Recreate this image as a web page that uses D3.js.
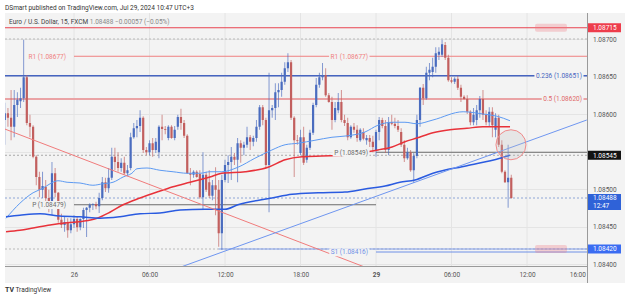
<!DOCTYPE html>
<html>
<head>
<meta charset="utf-8">
<script src="https://cdn.jsdelivr.net/npm/d3@7"></script>
<style>
html, body { margin: 0; padding: 0; background: #fff; }
svg { display: block; font-family: Roboto, "Liberation Sans", sans-serif; }
</style>
</head>
<body>
<svg id="chart" width="625" height="298"></svg>
<script>
// EUR/USD 15 min candles. Bar index 0 = Jul 26 00:00, 96 = Jul 29 00:00 (weekend collapsed)
var firstIndex = -22;
// [open, high, low, close]
var ohlc = [
  [1.08592,1.08615,1.08559,1.08601],[1.08601,1.08608,1.08583,1.08595],[1.08595,1.08632,1.08565,1.08583],
  [1.08583,1.08632,1.08569,1.08612],[1.08612,1.08629,1.08596,1.08619],[1.08617,1.08635,1.08608,1.08621],
  [1.08621,1.08699,1.08616,1.08649],[1.08649,1.08652,1.08585,1.08588],[1.08588,1.08599,1.08569,1.08583],
  [1.08583,1.08585,1.08541,1.08543],[1.08543,1.08545,1.08505,1.08516],[1.08516,1.08523,1.08489,1.08499],
  [1.08499,1.08523,1.08488,1.08504],[1.08503,1.08512,1.08479,1.08488],[1.08488,1.08499,1.08469,1.08475],
  [1.08475,1.08536,1.08465,1.08521],[1.08521,1.08528,1.08489,1.08495],[1.08495,1.08496,1.08455,1.08459],
  [1.08459,1.08467,1.08448,1.08452],[1.08452,1.08463,1.08443,1.08456],[1.08456,1.08461,1.08435,1.08445],
  [1.08445,1.08461,1.08441,1.08453],
  [1.08453,1.08465,1.08448,1.08460],[1.08460,1.08464,1.08443,1.08449],[1.08449,1.08461,1.08445,1.08460],
  [1.08460,1.08475,1.08448,1.08472],[1.08472,1.08476,1.08436,1.08475],[1.08475,1.08481,1.08469,1.08479],
  [1.08479,1.08481,1.08472,1.08480],[1.08480,1.08483,1.08473,1.08477],[1.08477,1.08495,1.08468,1.08488],
  [1.08488,1.08516,1.08485,1.08509],[1.08509,1.08515,1.08496,1.08501],[1.08501,1.08528,1.08495,1.08515],
  [1.08515,1.08555,1.08512,1.08543],[1.08543,1.08555,1.08525,1.08536],[1.08536,1.08549,1.08523,1.08528],
  [1.08528,1.08541,1.08523,1.08535],[1.08535,1.08543,1.08519,1.08521],[1.08521,1.08532,1.08517,1.08525],
  [1.08528,1.08575,1.08525,1.08569],[1.08569,1.08588,1.08567,1.08581],[1.08581,1.08592,1.08569,1.08584],
  [1.08584,1.08605,1.08576,1.08595],[1.08595,1.08597,1.08548,1.08552],[1.08552,1.08556,1.08545,1.08549],
  [1.08549,1.08565,1.08545,1.08561],[1.08561,1.08568,1.08543,1.08552],[1.08552,1.08568,1.08548,1.08563],
  [1.08549,1.08585,1.08541,1.08583],[1.08583,1.08599,1.08565,1.08580],[1.08580,1.08584,1.08573,1.08579],
  [1.08568,1.08585,1.08565,1.08583],[1.08583,1.08585,1.08567,1.08568],[1.08568,1.08584,1.08565,1.08579],
  [1.08583,1.08599,1.08579,1.08596],[1.08596,1.08607,1.08579,1.08588],[1.08588,1.08592,1.08568,1.08571],
  [1.08571,1.08573,1.08520,1.08521],[1.08521,1.08528,1.08505,1.08519],[1.08519,1.08525,1.08515,1.08523],
  [1.08523,1.08525,1.08515,1.08516],[1.08520,1.08525,1.08487,1.08489],[1.08489,1.08549,1.08472,1.08519],
  [1.08519,1.08523,1.08496,1.08499],[1.08509,1.08525,1.08488,1.08491],[1.08491,1.08512,1.08485,1.08505],
  [1.08505,1.08529,1.08465,1.08499],[1.08499,1.08512,1.08423,1.08441],[1.08441,1.08519,1.08419,1.08512],
  [1.08512,1.08539,1.08509,1.08532],[1.08532,1.08545,1.08508,1.08536],[1.08536,1.08556,1.08512,1.08543],
  [1.08543,1.08548,1.08532,1.08539],[1.08539,1.08568,1.08509,1.08561],[1.08561,1.08565,1.08535,1.08555],
  [1.08555,1.08563,1.08545,1.08559],[1.08559,1.08583,1.08555,1.08569],[1.08569,1.08572,1.08552,1.08563],
  [1.08563,1.08571,1.08557,1.08568],[1.08568,1.08592,1.08563,1.08583],[1.08583,1.08612,1.08579,1.08609],
  [1.08609,1.08612,1.08585,1.08592],[1.08592,1.08595,1.08528,1.08532],[1.08532,1.08655,1.08469,1.08605],
  [1.08605,1.08612,1.08595,1.08608],[1.08608,1.08641,1.08592,1.08629],[1.08629,1.08641,1.08609,1.08632],
  [1.08632,1.08655,1.08623,1.08643],[1.08643,1.08669,1.08639,1.08661],[1.08661,1.08681,1.08656,1.08669],
  [1.08669,1.08672,1.08592,1.08595],[1.08595,1.08597,1.08516,1.08565],[1.08565,1.08572,1.08559,1.08564],
  [1.08548,1.08579,1.08545,1.08569],[1.08569,1.08583,1.08532,1.08535],[1.08539,1.08559,1.08535,1.08555],
  [1.08555,1.08579,1.08552,1.08575],[1.08575,1.08615,1.08572,1.08612],[1.08612,1.08648,1.08609,1.08639],
  [1.08639,1.08655,1.08635,1.08649],[1.08649,1.08668,1.08645,1.08652],[1.08652,1.08661,1.08623,1.08625],
  [1.08625,1.08628,1.08615,1.08616],[1.08616,1.08623,1.08579,1.08592],[1.08592,1.08616,1.08589,1.08608],
  [1.08605,1.08628,1.08601,1.08616],[1.08616,1.08632,1.08589,1.08592],[1.08592,1.08599,1.08584,1.08588],
  [1.08588,1.08595,1.08565,1.08569],[1.08569,1.08585,1.08567,1.08583],[1.08583,1.08588,1.08575,1.08579],
  [1.08579,1.08585,1.08563,1.08568],[1.08565,1.08581,1.08563,1.08579],[1.08576,1.08581,1.08565,1.08567],
  [1.08565,1.08572,1.08559,1.08568],[1.08568,1.08572,1.08556,1.08563],[1.08563,1.08571,1.08549,1.08556],
  [1.08552,1.08579,1.08543,1.08576],[1.08576,1.08596,1.08565,1.08592],[1.08592,1.08595,1.08581,1.08584],
  [1.08584,1.08592,1.08548,1.08552],[1.08552,1.08596,1.08545,1.08589],[1.08589,1.08599,1.08585,1.08587],
  [1.08587,1.08595,1.08581,1.08584],[1.08584,1.08592,1.08576,1.08579],[1.08576,1.08581,1.08556,1.08559],
  [1.08559,1.08565,1.08536,1.08541],[1.08541,1.08555,1.08539,1.08549],[1.08549,1.08552,1.08523,1.08525],
  [1.08525,1.08548,1.08508,1.08544],[1.08544,1.08599,1.08541,1.08592],[1.08592,1.08636,1.08583,1.08635],
  [1.08635,1.08640,1.08612,1.08621],[1.08621,1.08663,1.08619,1.08655],[1.08655,1.08668,1.08645,1.08659],
  [1.08656,1.08675,1.08649,1.08663],[1.08663,1.08689,1.08655,1.08681],[1.08679,1.08689,1.08672,1.08683],
  [1.08679,1.08699,1.08676,1.08693],[1.08692,1.08696,1.08672,1.08675],[1.08675,1.08679,1.08643,1.08645],
  [1.08645,1.08649,1.08641,1.08643],[1.08643,1.08649,1.08640,1.08647],[1.08647,1.08651,1.08632,1.08635],
  [1.08635,1.08639,1.08616,1.08623],[1.08623,1.08625,1.08619,1.08620],[1.08620,1.08625,1.08600,1.08603],
  [1.08603,1.08605,1.08585,1.08589],[1.08589,1.08608,1.08585,1.08599],[1.08592,1.08612,1.08585,1.08605],
  [1.08605,1.08624,1.08595,1.08620],[1.08620,1.08632,1.08592,1.08599],[1.08599,1.08605,1.08585,1.08589],
  [1.08589,1.08609,1.08583,1.08603],[1.08603,1.08609,1.08569,1.08585],[1.08579,1.08601,1.08569,1.08595],
  [1.08595,1.08599,1.08556,1.08559],[1.08559,1.08565,1.08521,1.08523],[1.08523,1.08525,1.08508,1.08509],
  [1.08509,1.08559,1.08475,1.08515],[1.08515,1.08519,1.08487,1.08488]
];

// moving averages, [bar index, price]
var maFast = [[-21.6,1.08461],[-17.2,1.08481],[-13,1.08495],[-9.9,1.08501],[-7.6,1.08507],[-5.1,1.08511],
  [-2.2,1.08509],[1.9,1.08508],[6,1.08505],[9.2,1.08507],[12.4,1.08509],[15.6,1.08516],[18.4,1.08521],
  [20,1.08527],[23.2,1.08528],[27.3,1.08525],[31.5,1.08523],[35.9,1.08521],[40.1,1.08521],[43.2,1.08523],
  [47,1.08523],[52.1,1.08529],[57.5,1.08541],[62.9,1.08552],[67.1,1.08559],[71.2,1.08561],[76.6,1.08565],
  [82,1.08569],[87.1,1.08571],[92.5,1.08576],[96.6,1.08585],[101.1,1.08589],[105.2,1.08589],[109,1.08587],
  [114.1,1.08592],[123.7,1.08603],[130,1.08600],[134.5,1.08597],[138.6,1.08591]];
var maMid = [[-21.6,1.08443],[-17.2,1.08445],[-13,1.08448],[-7.6,1.08452],[-2.2,1.08455],[2.9,1.08457],
  [7.3,1.08461],[11.4,1.08469],[15.6,1.08479],[21,1.08488],[26.4,1.08496],[31.5,1.08503],[36.9,1.08509],
  [43.2,1.08516],[47,1.08521],[54.4,1.08523],[61.7,1.08529],[67.1,1.08539],[72.5,1.08543],[78.8,1.08544],
  [86.1,1.08545],[92.5,1.08549],[96.6,1.08552],[101.1,1.08556],[105.2,1.08563],[109,1.08568],
  [114.1,1.08575],[119.5,1.08579],[124.9,1.08581],[130,1.08583],[138.6,1.08583]];
var maSlow = [[-21.6,1.08463],[-17.2,1.08465],[-10.8,1.08467],[-4.5,1.08464],[1.9,1.08463],[8.3,1.08461],
  [14.6,1.08463],[21,1.08467],[27.3,1.08468],[33.7,1.08472],[41.6,1.08473],[48,1.08473],[52.1,1.08479],
  [62.9,1.08488],[69.3,1.08493],[77.6,1.08495],[86.1,1.08496],[92.5,1.08500],[98.9,1.08504],
  [103.6,1.08509],[108.4,1.08512],[114.1,1.08521],[124.9,1.08531],[135.4,1.08541],[138.6,1.08545]];

// drawn trend lines, [bar index, price]
var trendDown = [[-22,1.08580],[93,1.08395]];
var trendUp = [[34,1.08396],[163,1.08592]];

// pivot points: [label, price, from bar, to bar]
var pivots = [["R1",1.08677,0,96],["P",1.08479,0,96],["R1",1.08677,96,163.5],["P",1.08549,96,163.5],["S1",1.08416,96,163.5]];
var fibLevels = [["0.236",1.08651],["0.5",1.08620]];

var priceTicks = [1.084, 1.0845, 1.085, 1.0855, 1.086, 1.0865, 1.087];
var timeTicks = [0, 24, 48, 72, 96, 120, 144, 160];
var timeLabels = ["26", "06:00", "12:00", "18:00", "29", "06:00", "12:00", "16:00"];

var lastPrice = 1.08488, dayLine = 1.08545, alertHigh = 1.08715, alertLow = 1.08420, roundLevel = 1.087;
var circleAt = [138.9, 1.08559];

// ---------------------------------------------------------------
var svg = d3.select("#chart");
var L = 5, R = 587, T = 13, B = 266;
var x = d3.scaleLinear().domain([0, 96]).range([74, 376]);
var y = d3.scaleLinear().domain([1.084, 1.087]).range([264, 39]);
var fmt = d3.format(".5f");

var blue = "#4a6cbf", red = "#c25f5e";

svg.append("rect").attr("x", L).attr("y", T).attr("width", 625 - L).attr("height", 283 - T).attr("fill", "#f3f3f3");

svg.append("defs").append("clipPath").attr("id", "clip")
  .append("rect").attr("x", L).attr("y", T).attr("width", R - L).attr("height", B - T);

var g = svg.append("g").attr("clip-path", "url(#clip)");

// grid
g.selectAll(".vg").data(timeTicks.slice(0, 7)).enter().append("line")
  .attr("x1", function (d) { return x(d); }).attr("x2", function (d) { return x(d); })
  .attr("y1", T).attr("y2", B).attr("stroke", "#e4e4e4").attr("stroke-width", 1);
g.selectAll(".hg").data(priceTicks).enter().append("line")
  .attr("x1", L).attr("x2", R)
  .attr("y1", function (d) { return Math.round(y(d)) + 0.5; }).attr("y2", function (d) { return Math.round(y(d)) + 0.5; })
  .attr("stroke", "#e4e4e4");

// horizontal levels
function hline(p, x1, color, width, dash) {
  g.append("line").attr("x1", x1).attr("x2", R).attr("y1", y(p)).attr("y2", y(p))
    .attr("stroke", color).attr("stroke-width", width).attr("stroke-dasharray", dash || null);
}
hline(alertHigh, L, "#e8434f", 1);
hline(roundLevel, L, "#b9b9b9", 1, "2,2");
hline(dayLine, L, "#a8a8a8", 1, "2,2");
hline(lastPrice, L, "#8fa6d6", 1, "2,2");
hline(alertLow, L, "#b9b9b9", 1, "2,2");
hline(alertLow, x(46), "#7d9bea", 1);

// fib levels
g.append("line").attr("x1", L).attr("x2", R).attr("y1", y(fibLevels[0][1])).attr("y2", y(fibLevels[0][1]))
  .attr("stroke", "#4664c0").attr("stroke-width", 1.3);
g.append("line").attr("x1", L).attr("x2", R).attr("y1", y(fibLevels[1][1])).attr("y2", y(fibLevels[1][1]))
  .attr("stroke", "#eaa3a5").attr("stroke-width", 2);

// pivots
var pivotColor = { R1: "#f08080", P: "#6b6b6b", S1: "#6f90e6" };
pivots.forEach(function (p) {
  g.append("line").attr("x1", x(p[2])).attr("x2", x(p[3])).attr("y1", y(p[1])).attr("y2", y(p[1]))
    .attr("stroke", pivotColor[p[0]]).attr("stroke-width", 1);
});

// candles
var bars = ohlc.map(function (d, i) { return { i: firstIndex + i, o: d[0], h: d[1], l: d[2], c: d[3] }; });
var cg = g.selectAll(".bar").data(bars).enter().append("g");
cg.append("line")
  .attr("x1", function (d) { return x(d.i); }).attr("x2", function (d) { return x(d.i); })
  .attr("y1", function (d) { return y(d.h); }).attr("y2", function (d) { return y(d.l); })
  .attr("stroke", function (d) { return d.c >= d.o ? blue : red; }).attr("stroke-opacity", 0.75).attr("stroke-width", 0.9);
cg.append("rect")
  .attr("x", function (d) { return x(d.i) - 1.1; }).attr("width", 2.2)
  .attr("y", function (d) { return y(Math.max(d.o, d.c)); })
  .attr("height", function (d) { return Math.max(0.8, Math.abs(y(d.o) - y(d.c))); })
  .attr("fill", function (d) { return d.c >= d.o ? blue : red; });

// moving averages
var line = d3.line().x(function (d) { return x(d[0]); }).y(function (d) { return y(d[1]); }).curve(d3.curveMonotoneX);
g.append("path").attr("d", line(maFast)).attr("fill", "none").attr("stroke", "#5d9af2").attr("stroke-width", 1);
g.append("path").attr("d", line(maMid)).attr("fill", "none").attr("stroke", "#e8323a").attr("stroke-width", 1.5);
g.append("path").attr("d", line(maSlow)).attr("fill", "none").attr("stroke", "#2a5be0").attr("stroke-width", 1.5);

// trend lines
var straight = d3.line().x(function (d) { return x(d[0]); }).y(function (d) { return y(d[1]); });
g.append("path").attr("d", straight(trendDown)).attr("stroke", "#f07b7b").attr("stroke-width", 1).attr("fill", "none");
g.append("path").attr("d", straight(trendUp)).attr("stroke", "#6f96f0").attr("stroke-width", 1).attr("fill", "none");

// circle
g.append("circle").attr("cx", x(circleAt[0])).attr("cy", y(circleAt[1])).attr("r", 15)
  .attr("fill", "rgba(190,190,190,0.25)").attr("stroke", "#f08a8a").attr("stroke-width", 1);

// alert marks
[alertHigh, alertLow].forEach(function (p) {
  g.append("rect").attr("x", 535).attr("y", y(p) - 4).attr("width", 32).attr("height", 8).attr("rx", 2)
    .attr("fill", "rgba(242,120,130,0.3)");
});

// labels on the chart
function tag(txt, xr, yy, color) {
  var t = g.append("text").attr("x", xr).attr("y", yy).attr("dy", "0.35em").attr("text-anchor", "end")
    .attr("font-size", 6.5).attr("fill", color).text(txt);
  var bb = t.node().getBBox();
  g.insert("rect", function () { return t.node(); }).attr("x", bb.x - 1.5).attr("y", bb.y).attr("width", bb.width + 3)
    .attr("height", bb.height).attr("fill", "#f3f3f3");
}
pivots.forEach(function (p) {
  tag(p[0] + " (" + fmt(p[1]) + ")", x(p[2]) - 8, y(p[1]), pivotColor[p[0]]);
});
tag(fibLevels[0][0] + " (" + fmt(fibLevels[0][1]) + ")", R - 5, y(fibLevels[0][1]), "#4664c0");
tag(fibLevels[1][0] + " (" + fmt(fibLevels[1][1]) + ")", R - 5, y(fibLevels[1][1]), "#e06868");

// axes
svg.append("line").attr("x1", R + 0.5).attr("x2", R + 0.5).attr("y1", T).attr("y2", 283).attr("stroke", "#9a9a9a");
svg.append("line").attr("x1", L).attr("x2", R).attr("y1", B + 0.5).attr("y2", B + 0.5).attr("stroke", "#9a9a9a");

// price labels: the 1.08550 label sits under the dark price box, as in the original
var shownTicks = priceTicks.filter(function (p) { return Math.abs(y(p) - y(dayLine)) > 6; });
var ya = svg.append("g").attr("transform", "translate(" + (R + 6) + ",0)")
  .call(d3.axisRight(y).tickValues(shownTicks).tickSize(0).tickPadding(0).tickFormat(fmt));
ya.select(".domain").remove();
ya.selectAll("text").attr("font-size", 6.5).attr("fill", "#555").attr("font-family", "Roboto, sans-serif");

var xa = svg.append("g").attr("transform", "translate(0," + (B + 4) + ")")
  .call(d3.axisBottom(x).tickValues(timeTicks).tickSize(0).tickPadding(2).tickFormat(function (d, i) { return timeLabels[i]; }));
xa.select(".domain").remove();
xa.selectAll("text").attr("font-size", 6.5).attr("fill", "#555").attr("font-family", "Roboto, sans-serif")
  .attr("font-weight", function (d) { return d === 96 ? "bold" : null; });

// price boxes on the axis
function pbox(p, bg, top, h, lines) {
  var yy = y(p);
  svg.append("rect").attr("x", R + 1).attr("y", yy - top).attr("width", 33).attr("height", h).attr("fill", bg);
  lines.forEach(function (s, k) {
    svg.append("text").attr("x", R + 6).attr("y", yy + 2.3 + k * 7.5).attr("font-size", 6.5)
      .attr("fill", "#fff").text(s);
  });
}
pbox(alertHigh, "#ee3d4c", 4.5, 9, [fmt(alertHigh)]);
pbox(dayLine, "#131313", 4.5, 9, [fmt(dayLine)]);
pbox(lastPrice, "#2f62d8", 4, 16, [fmt(lastPrice), "12:47"]);
pbox(alertLow, "#3a6cf2", 4.5, 9, [fmt(alertLow)]);

// header and footer
svg.append("text").attr("x", 5).attr("y", 9.5).attr("font-size", 6.5).attr("fill", "#333")
  .text("DSmart published on TradingView.com, Jul 29, 2024 10:47 UTC+3");
var lg = svg.append("text").attr("x", 9).attr("y", 24).attr("font-size", 6.5).attr("fill", "#444");
lg.append("tspan").text("Euro / U.S. Dollar, 15, FXCM ");
lg.append("tspan").attr("fill", "#888").text(" " + fmt(lastPrice) + "  \u22120.00057 (\u22120.05%)");

var ft = svg.append("text").attr("x", 5).attr("y", 292).attr("font-size", 6.5).attr("fill", "#333");
ft.append("tspan").attr("font-weight", "bold").attr("font-size", 7).text("TV");
ft.append("tspan").text(" TradingView");
</script>
</body>
</html>
